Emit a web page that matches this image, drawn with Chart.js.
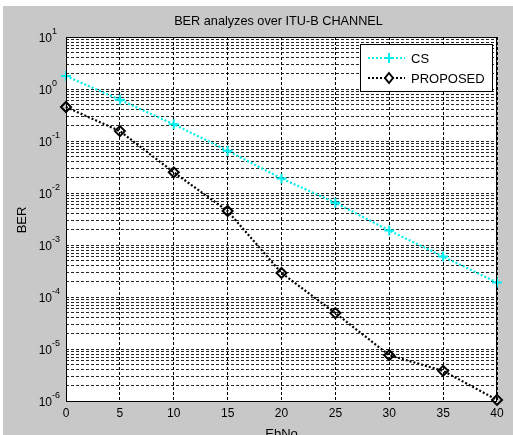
<!DOCTYPE html>
<html><head><meta charset="utf-8">
<script src="https://cdn.jsdelivr.net/npm/chart.js@4/dist/chart.umd.min.js"></script>
<style>
html,body{margin:0;padding:0;background:#fff;overflow:hidden;}
#wrap{position:absolute;left:3px;top:6px;width:510px;height:429px;}
</style>
</head><body>
<div id="wrap"><canvas id="c" width="510" height="429"></canvas></div>
<script>
// ---- data ----
const ebno = [0, 5, 10, 15, 20, 25, 30, 35, 40];
const berCS = [1.78, 0.62, 0.21, 0.065, 0.019, 0.0065, 0.0019, 0.0006, 0.00019];
const berProposed = [0.45, 0.155, 0.025, 0.0045, 0.00029, 0.000049, 0.0000076, 0.0000038, 0.00000105];
const xTickValues = [0, 5, 10, 15, 20, 25, 30, 35, 40];
const yDecadeExps = [-6, -5, -4, -3, -2, -1, 0, 1];
const titleText = 'BER analyzes over ITU-B CHANNEL';
const xLabel = 'EbNo';
const yLabel = 'BER';
const seriesNames = ['CS', 'PROPOSED'];

const FONT = '"Liberation Sans", Arial, sans-serif';
const CYAN = '#00f0f0';

function toPts(xs, ys){ return xs.map((x,i)=>({x:x, y:ys[i]})); }

// log grid values: decades and 2..9 minors
const yGridVals = [];
for (let e = -6; e <= 1; e++) {
  yGridVals.push(Math.pow(10, e));
  if (e < 1) for (let m = 2; m <= 9; m++) yGridVals.push(m * Math.pow(10, e));
}

const matlabPlugin = {
  id: 'matlab',
  beforeDraw(chart) {
    const ctx = chart.ctx, a = chart.chartArea;
    ctx.save();
    ctx.fillStyle = '#c8c8c8';
    ctx.fillRect(0, 0, chart.width, chart.height);
    ctx.fillStyle = '#ffffff';
    ctx.fillRect(a.left, a.top, a.right - a.left, a.bottom - a.top);
    ctx.restore();
  },
  afterDraw(chart) {
    const ctx = chart.ctx, a = chart.chartArea;
    const xs = chart.scales.x, ys = chart.scales.y;
    ctx.save();
    // frame
    ctx.strokeStyle = '#000';
    ctx.lineWidth = 1;
    ctx.setLineDash([]);
    ctx.strokeRect(a.left + 0.5, a.top + 0.5, a.right - a.left - 1, a.bottom - a.top);
    // x tick labels
    ctx.fillStyle = '#000';
    ctx.font = '12px ' + FONT;
    ctx.textAlign = 'center';
    ctx.textBaseline = 'middle';
    xTickValues.forEach(v => {
      ctx.fillText(String(v), xs.getPixelForValue(v), a.bottom + 13);
    });
    // y tick labels 10^e
    yDecadeExps.forEach(e => {
      const py = ys.getPixelForValue(Math.pow(10, e));
      ctx.font = '12px ' + FONT;
      ctx.textAlign = 'right';
      ctx.textBaseline = 'middle';
      ctx.fillText('10', a.left - 14, py + 2);
      ctx.font = '9px ' + FONT;
      ctx.textAlign = 'left';
      ctx.fillText(String(e), a.left - 14, py - 5);
    });
    // title
    ctx.font = '12.7px ' + FONT;
    ctx.textAlign = 'center';
    ctx.textBaseline = 'middle';
    ctx.fillText(titleText, (a.left + a.right) / 2 - 3, 15);
    // x label
    ctx.font = '13px ' + FONT;
    ctx.textBaseline = 'top';
    ctx.fillText(xLabel, (a.left + a.right) / 2, a.bottom + 27);
    // y label
    ctx.save();
    ctx.translate(19, 214);
    ctx.rotate(-Math.PI / 2);
    ctx.textBaseline = 'middle';
    ctx.fillText(yLabel, 0, 0);
    ctx.restore();
    // legend
    const lx = 357, ly = 38, lw = 132, lh = 47;
    ctx.fillStyle = '#fff';
    ctx.fillRect(lx, ly, lw, lh);
    ctx.strokeStyle = '#000';
    ctx.lineWidth = 1;
    ctx.strokeRect(lx + 0.5, ly + 0.5, lw, lh);
    const items = [
      {name: seriesNames[0], color: CYAN, style: 'cross', y: ly + 14},
      {name: seriesNames[1], color: '#000000', style: 'diamond', y: ly + 34}
    ];
    items.forEach(it => {
      ctx.strokeStyle = it.color;
      ctx.lineWidth = 2;
      ctx.setLineDash([2, 2]);
      ctx.beginPath();
      ctx.moveTo(lx + 8, it.y);
      ctx.lineTo(lx + 45, it.y);
      ctx.stroke();
      ctx.setLineDash([]);
      const cx = lx + 29;
      ctx.beginPath();
      if (it.style === 'cross') {
        ctx.moveTo(cx - 5, it.y); ctx.lineTo(cx + 5, it.y);
        ctx.moveTo(cx, it.y - 5); ctx.lineTo(cx, it.y + 5);
        ctx.stroke();
      } else {
        ctx.fillStyle = '#fff';
        ctx.moveTo(cx, it.y - 5); ctx.lineTo(cx + 4, it.y); ctx.lineTo(cx, it.y + 5); ctx.lineTo(cx - 4, it.y); ctx.closePath();
        ctx.fill(); ctx.stroke();
      }
      ctx.fillStyle = '#000';
      ctx.font = '13px ' + FONT;
      ctx.textAlign = 'left';
      ctx.textBaseline = 'middle';
      ctx.fillText(it.name, lx + 51, it.y + 1);
    });
    ctx.restore();
  }
};

new Chart(document.getElementById('c'), {
  type: 'line',
  data: {
    datasets: [
      {
        label: seriesNames[0],
        data: toPts(ebno, berCS),
        borderColor: CYAN,
        backgroundColor: CYAN,
        borderWidth: 2.2,
        borderDash: [2, 2],
        pointStyle: 'cross',
        pointRadius: 5,
        pointBorderWidth: 2,
        tension: 0,
        fill: false
      },
      {
        label: seriesNames[1],
        data: toPts(ebno, berProposed),
        borderColor: '#000000',
        backgroundColor: 'rgba(255,255,255,0)',
        borderWidth: 2.2,
        borderDash: [2, 2],
        pointStyle: 'rectRot',
        pointRadius: 5,
        pointBorderWidth: 2,
        pointBackgroundColor: 'rgba(255,255,255,0)',
        tension: 0,
        fill: false
      }
    ]
  },
  options: {
    responsive: false,
    animation: false,
    devicePixelRatio: 1,
    layout: {padding: {left: 63, right: 16, top: 31, bottom: 34}},
    plugins: {legend: {display: false}, title: {display: false}, tooltip: {enabled: false}},
    clip: false,
    scales: {
      x: {
        type: 'linear', min: 0, max: 40,
        afterBuildTicks: ax => { ax.ticks = xTickValues.map(v => ({value: v})); },
        ticks: {display: false},
        grid: {color: '#000', lineWidth: 1, drawTicks: false},
        border: {display: false, dash: [3, 2]}
      },
      y: {
        type: 'logarithmic', min: 1e-6, max: 10,
        afterBuildTicks: ax => { ax.ticks = yGridVals.map(v => ({value: v})); },
        ticks: {display: false},
        grid: {color: 'rgba(0,0,0,0.85)', lineWidth: 1, drawTicks: false},
        border: {display: false, dash: [3, 2]}
      }
    }
  },
  plugins: [matlabPlugin]
});
</script>
</body></html>
